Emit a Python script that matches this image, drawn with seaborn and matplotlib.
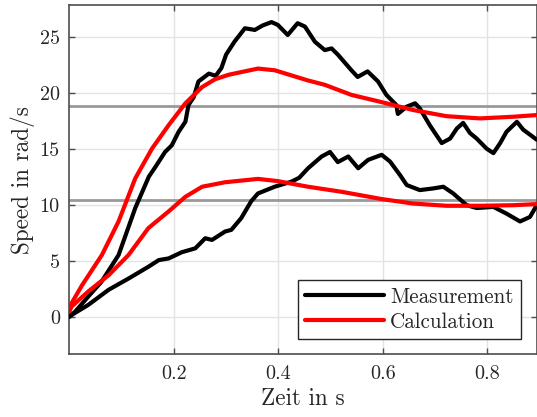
import numpy as np
import pandas as pd
import matplotlib
matplotlib.use("Agg")
import matplotlib.pyplot as plt
import seaborn as sns

# Measured speed, high-load run
meas_hi_t = [0.0, 0.011, 0.036, 0.061, 0.094, 0.126, 0.152, 0.165, 0.183, 0.196, 0.209,
             0.222, 0.228, 0.238, 0.247, 0.267, 0.280, 0.291, 0.300, 0.316, 0.336, 0.355,
             0.370, 0.387, 0.399, 0.418, 0.437, 0.451, 0.470, 0.489, 0.502, 0.514, 0.540,
             0.552, 0.571, 0.591, 0.607, 0.626, 0.629, 0.646, 0.662, 0.671, 0.690, 0.713,
             0.729, 0.742, 0.754, 0.767, 0.780, 0.799, 0.812, 0.825, 0.837, 0.857, 0.869,
             0.895]
meas_hi_v = [0.0, 0.45, 1.8, 3.1, 5.5, 9.7, 12.5, 13.4, 14.7, 15.3, 16.5,
             17.4, 18.9, 19.6, 21.0, 21.7, 21.5, 22.2, 23.4, 24.55, 25.75, 25.6,
             26.0, 26.3, 26.05, 25.15, 26.2, 25.9, 24.55, 23.8, 23.95, 23.4, 22.0,
             21.4, 21.9, 21.0, 19.8, 18.9, 18.1, 18.75, 19.05, 18.6, 17.1, 15.5,
             15.9, 16.8, 17.3, 16.4, 15.9, 15.0, 14.6, 15.5, 16.5, 17.4, 16.7,
             15.8]

# Calculated speed, high-load run
calc_hi_t = [0.0, 0.004, 0.024, 0.062, 0.094, 0.126, 0.158, 0.190, 0.222, 0.254, 0.279,
             0.305, 0.361, 0.393, 0.456, 0.489, 0.540, 0.594, 0.658, 0.722, 0.786, 0.850, 0.895]
calc_hi_v = [0.5, 1.2, 2.8, 5.5, 8.5, 12.35, 15.0, 17.1, 19.05, 20.5, 21.2,
             21.6, 22.15, 22.0, 21.1, 20.7, 19.8, 19.2, 18.45, 17.9, 17.7, 17.85, 18.0]

# Measured speed, low-load run
meas_lo_t = [0.0, 0.004, 0.036, 0.075, 0.113, 0.151, 0.171, 0.190, 0.215, 0.241, 0.260,
             0.273, 0.298, 0.310, 0.329, 0.348, 0.361, 0.393, 0.425, 0.440, 0.457, 0.483,
             0.499, 0.514, 0.534, 0.553, 0.572, 0.598, 0.614, 0.633, 0.646, 0.671, 0.697,
             0.716, 0.735, 0.761, 0.780, 0.812, 0.837, 0.863, 0.882, 0.895]
meas_lo_v = [0.0, 0.15, 1.05, 2.4, 3.4, 4.45, 5.05, 5.2, 5.75, 6.1, 7.0,
             6.85, 7.6, 7.75, 8.8, 10.3, 11.0, 11.6, 12.05, 12.4, 13.25, 14.3,
             14.7, 13.8, 14.3, 13.25, 14.0, 14.45, 13.85, 12.65, 11.75, 11.3, 11.45,
             11.6, 11.0, 9.95, 9.7, 9.8, 9.2, 8.5, 8.9, 9.95]

# Calculated speed, low-load run
calc_lo_t = [0.0, 0.004, 0.036, 0.075, 0.113, 0.151, 0.190, 0.222, 0.254, 0.298, 0.361,
             0.399, 0.457, 0.521, 0.598, 0.658, 0.722, 0.786, 0.850, 0.895]
calc_lo_v = [0.5, 0.9, 2.25, 3.7, 5.5, 7.9, 9.4, 10.7, 11.6, 12.0, 12.3,
             12.1, 11.6, 11.15, 10.5, 10.1, 9.9, 9.9, 9.95, 10.05]

# Steady-state reference levels
reference_levels = [18.81, 10.39]

series_labels = ["Measurement", "Calculation"]
x_ticks = [0.2, 0.4, 0.6, 0.8]
y_ticks = [0, 5, 10, 15, 20, 25]

def frame(t, v, kind, run):
    return pd.DataFrame({"t": t, "v": v, "kind": kind, "run": run})

df = pd.concat([
    frame(meas_hi_t, meas_hi_v, series_labels[0], "hi"),
    frame(meas_lo_t, meas_lo_v, series_labels[0], "lo"),
    frame(calc_hi_t, calc_hi_v, series_labels[1], "hi"),
    frame(calc_lo_t, calc_lo_v, series_labels[1], "lo"),
], ignore_index=True)

sns.set_theme(style="whitegrid")
plt.rcParams["font.family"] = ["cmr10"]
plt.rcParams["mathtext.fontset"] = "cm"
plt.rcParams["axes.formatter.use_mathtext"] = True
plt.rcParams["axes.unicode_minus"] = False

fig = plt.figure(figsize=(5.37, 4.17), dpi=100)
ax = fig.add_axes([0.1294, 0.1504, 0.8706, 0.8369])

for yl in reference_levels:
    ax.axhline(yl, color="#999999", lw=2.0, zorder=1.5)

palette = {series_labels[0]: "black", series_labels[1]: "#ff0000"}
sns.lineplot(data=df, x="t", y="v", hue="kind", units="run", estimator=None,
             sort=False, palette=palette, lw=3.0, ax=ax, legend=False, zorder=3)

ax.set_xlim(0, 0.8955)
ax.set_ylim(-3.36, 27.8)
ax.set_xticks(x_ticks)
ax.set_yticks(y_ticks)
ax.set_xticklabels([f"{v:.1f}" for v in x_ticks])
ax.set_yticklabels([str(v) for v in y_ticks])

ax.grid(True, color="#e3e3e3", lw=1.0)
ax.set_facecolor("white")
for s in ax.spines.values():
    s.set_color("#4d4d4d")
    s.set_linewidth(1.2)
ax.tick_params(direction="in", length=4, width=1, color="#4d4d4d",
               top=True, right=True, bottom=True, left=True,
               labelsize=14.5, labelcolor="#262626")
ax.tick_params(axis="y", pad=7)
ax.tick_params(axis="x", pad=8)

ax.set_xlabel("Zeit in s", fontsize=16.7, color="#262626", labelpad=3)
ax.set_ylabel("Speed in rad/s", fontsize=16.7, color="#262626", labelpad=3)

handles = [plt.Line2D([], [], color=palette[k], lw=3.0) for k in series_labels]
leg = ax.legend(handles, series_labels, loc="lower right",
                bbox_to_anchor=(0.965, 0.044), fontsize=15.2, frameon=True,
                fancybox=False, edgecolor="#262626", framealpha=1,
                handlelength=3.7, handletextpad=0.3, borderpad=0.35,
                labelspacing=0.25, borderaxespad=0)
leg.get_frame().set_linewidth(1.0)

fig.savefig("out.png", dpi=100)
